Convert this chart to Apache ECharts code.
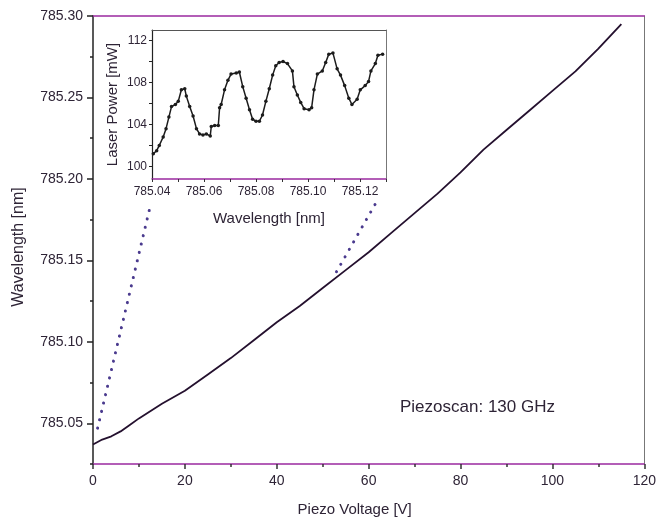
<!DOCTYPE html>
<html>
<head>
<meta charset="utf-8">
<script src="https://cdn.jsdelivr.net/npm/echarts@6/dist/echarts.min.js"></script>
<style>html,body{margin:0;padding:0;background:#fff;}#c{width:659px;height:525px;}</style>
</head>
<body>
<div id="c"></div>
<script>
// Main scan: piezo voltage [V] vs wavelength [nm]
const voltage = [0, 2, 4, 6, 8, 10, 15, 20, 25, 30, 35, 40, 45, 50, 55, 60, 65, 70, 75, 80, 85, 90, 95, 100, 105, 110, 115];
const wavelength = [785.037, 785.040, 785.042, 785.045, 785.049, 785.053, 785.062, 785.070, 785.080, 785.090, 785.101, 785.112, 785.122, 785.133, 785.144, 785.155, 785.167, 785.179, 785.191, 785.204, 785.218, 785.230, 785.242, 785.254, 785.266, 785.280, 785.295];

// Inset: wavelength [nm] vs laser power [mW]
const insetWl = [785.0405, 785.0418, 785.0428, 785.0443, 785.0454, 785.0465, 785.0475, 785.0490, 785.0501, 785.0513, 785.0526, 785.0532, 785.0545, 785.0558, 785.0571, 785.0583, 785.0596, 785.0609, 785.0624, 785.0628, 785.0641, 785.0655, 785.0660, 785.0666, 785.0679, 785.0692, 785.0704, 785.0724, 785.0736, 785.0749, 785.0762, 785.0775, 785.0787, 785.0800, 785.0813, 785.0825, 785.0838, 785.0851, 785.0864, 785.0876, 785.0889, 785.0904, 785.0921, 785.0940, 785.0946, 785.0959, 785.0972, 785.0985, 785.1004, 785.1014, 785.1023, 785.1036, 785.1055, 785.1068, 785.1080, 785.1096, 785.1112, 785.1125, 785.1141, 785.1157, 785.1169, 785.1189, 785.1201, 785.1220, 785.1233, 785.1242, 785.1259, 785.1269, 785.1287];
const insetPower = [101.2, 101.5, 102.0, 102.8, 103.6, 104.7, 105.7, 105.9, 106.2, 107.3, 107.4, 106.7, 105.7, 104.8, 103.6, 103.1, 103.0, 103.1, 102.9, 103.8, 103.9, 103.9, 105.6, 105.9, 107.3, 108.2, 108.8, 108.9, 109.0, 107.6, 106.5, 105.4, 104.5, 104.3, 104.3, 104.9, 106.2, 107.4, 108.7, 109.6, 109.9, 110.0, 109.8, 109.1, 107.6, 106.8, 106.1, 105.5, 105.4, 105.6, 107.3, 108.8, 109.1, 109.9, 110.7, 110.8, 109.3, 108.7, 107.7, 106.5, 105.9, 106.4, 107.3, 107.7, 108.1, 109.1, 109.8, 110.6, 110.7];

// Tick values
const xMainTicks = [0, 20, 40, 60, 80, 100, 120];
const yMainMajor = [785.05, 785.10, 785.15, 785.20, 785.25, 785.30];
const yMainMinor = [785.025, 785.075, 785.125, 785.175, 785.225, 785.275];
const xInsetLabels = [785.04, 785.06, 785.08, 785.10, 785.12];
const xInsetTicks = [785.04, 785.05, 785.06, 785.07, 785.08, 785.09, 785.10, 785.11, 785.12, 785.13];
const yInsetLabels = [100, 104, 108, 112];
const yInsetTicks = [100, 102, 104, 106, 108, 110, 112];

// Zoom connector endpoints: [main point (V, nm)], [inset point (nm, mW)]
const zoomFromMain = [[1, 785.047], [53, 785.143]];
const zoomToInset = [[785.0395, 96.4], [785.127, 96.9]];

const FONT = 'Liberation Sans, Arial, sans-serif';
const TXT = '#2e2436';
const MAG = '#9a2aa0';

const chart = echarts.init(document.getElementById('c'));
const option = {
  animation: false,
  backgroundColor: '#ffffff',
  grid: [
    { left: 93, right: 14, top: 16, bottom: 61 },
    { left: 152, right: 273, top: 30, bottom: 346, show: true, backgroundColor: '#ffffff', borderWidth: 0 }
  ],
  xAxis: [
    { type: 'value', gridIndex: 0, min: 0, max: 120, interval: 20,
      name: 'Piezo Voltage [V]', nameLocation: 'middle', nameGap: 38,
      nameTextStyle: { fontFamily: FONT, fontSize: 15, color: TXT, padding: [0, 28, 0, 0] },
      axisLine: { lineStyle: { color: MAG, width: 1.5 } },
      axisTick: { length: 5, lineStyle: { color: '#333', width: 1.5 } },
      minorTick: { show: true, splitNumber: 2, length: 3, lineStyle: { color: '#333', width: 1.5 } },
      axisLabel: { fontFamily: FONT, fontSize: 14, color: TXT, margin: 10 },
      splitLine: { show: false }
    },
    { type: 'value', gridIndex: 0, position: 'top', min: 0, max: 120,
      axisLine: { show: true, lineStyle: { color: MAG, width: 1.5 } },
      axisTick: { show: false }, axisLabel: { show: false }, splitLine: { show: false }
    },
    { type: 'value', gridIndex: 1, min: 785.04, max: 785.13,
      name: 'Wavelength [nm]', nameLocation: 'middle', nameGap: 32,
      nameTextStyle: { fontFamily: FONT, fontSize: 15, color: TXT },
      axisLine: { lineStyle: { color: MAG, width: 1.5 } },
      axisTick: { length: 3, customValues: xInsetTicks, lineStyle: { color: '#333' } },
      axisLabel: { fontFamily: FONT, fontSize: 12, color: TXT, margin: 7, customValues: xInsetLabels,
        formatter: v => v.toFixed(2) },
      splitLine: { show: false }
    },
    { type: 'value', gridIndex: 1, position: 'top', min: 785.04, max: 785.13,
      axisLine: { show: true, lineStyle: { color: '#555', width: 1 } },
      axisTick: { show: false }, axisLabel: { show: false }, splitLine: { show: false }
    }
  ],
  yAxis: [
    { type: 'value', gridIndex: 0, min: 785.025, max: 785.30, position: 'left',
      name: 'Wavelength [nm]', nameLocation: 'middle', nameGap: 66,
      nameTextStyle: { fontFamily: FONT, fontSize: 16, color: TXT, padding: [0, 0, 0, -14] },
      axisLine: { show: true, lineStyle: { color: '#222', width: 1.5 } },
      axisTick: { length: 6, customValues: yMainMajor, lineStyle: { color: '#222', width: 1.5 } },
      axisLabel: { fontFamily: FONT, fontSize: 14, color: TXT, margin: 10, customValues: yMainMajor,
        formatter: v => v.toFixed(2) },
      splitLine: { show: false }
    },
    { type: 'value', gridIndex: 0, min: 785.025, max: 785.30, position: 'left',
      axisLine: { show: false },
      axisTick: { length: 3, customValues: yMainMinor, lineStyle: { color: '#222', width: 1.5 } },
      axisLabel: { show: false }, splitLine: { show: false }
    },
    { type: 'value', gridIndex: 0, min: 785.025, max: 785.30, position: 'right',
      axisLine: { show: true, lineStyle: { color: '#777', width: 1 } },
      axisTick: { show: false }, axisLabel: { show: false }, splitLine: { show: false }
    },
    { type: 'value', gridIndex: 1, min: 98.8, max: 113, position: 'left',
      name: 'Laser Power [mW]', nameLocation: 'middle', nameGap: 32,
      nameTextStyle: { fontFamily: FONT, fontSize: 15, color: TXT },
      axisLine: { show: true, lineStyle: { color: '#222', width: 1.2 } },
      axisTick: { length: 3, customValues: yInsetTicks, lineStyle: { color: '#222' } },
      axisLabel: { fontFamily: FONT, fontSize: 12, color: TXT, margin: 5, customValues: yInsetLabels },
      splitLine: { show: false }
    },
    { type: 'value', gridIndex: 1, min: 98.8, max: 113, position: 'right',
      axisLine: { show: true, lineStyle: { color: '#777', width: 1 } },
      axisTick: { show: false }, axisLabel: { show: false }, splitLine: { show: false }
    }
  ],
  series: [
    { type: 'line', xAxisIndex: 0, yAxisIndex: 0,
      data: voltage.map((v, i) => [v, wavelength[i]]),
      showSymbol: false, lineStyle: { color: '#24102e', width: 1.8 }, z: 3 },
    { type: 'line', xAxisIndex: 2, yAxisIndex: 3,
      data: insetWl.map((w, i) => [w, insetPower[i]]),
      symbol: 'circle', symbolSize: 3.5, showSymbol: true,
      itemStyle: { color: '#1c1c1c' },
      lineStyle: { color: '#1c1c1c', width: 1.5 }, z: 5 }
  ]
};
chart.setOption(option);

const graphics = [];
for (let i = 0; i < zoomFromMain.length; i++) {
  const p1 = chart.convertToPixel({ xAxisIndex: 0, yAxisIndex: 0 }, zoomFromMain[i]);
  const p2 = chart.convertToPixel({ xAxisIndex: 2, yAxisIndex: 3 }, zoomToInset[i]);
  graphics.push({ type: 'line', z: 10,
    shape: { x1: p1[0], y1: p1[1], x2: p2[0], y2: p2[1] },
    style: { stroke: '#4a3a8e', lineWidth: 3, lineDash: [0.1, 8.5], lineCap: 'round' } });
}
graphics.push({ type: 'text', x: 400, y: 407, z: 10,
  style: { text: 'Piezoscan: 130 GHz', font: '17px ' + FONT, fill: TXT, verticalAlign: 'middle', align: 'left' } });
chart.setOption({ graphic: graphics });
</script>
</body>
</html>
